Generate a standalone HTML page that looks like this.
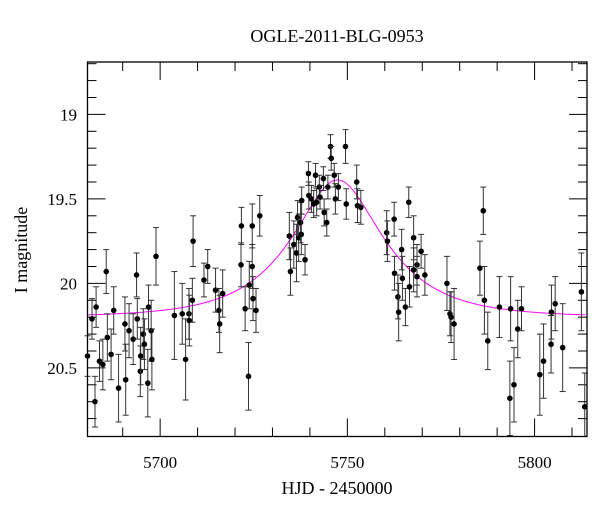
<!DOCTYPE html>
<html><head><meta charset="utf-8"><style>
body{margin:0;background:#fff}
svg{display:block;font-family:"Liberation Serif",serif}
</style></head><body>
<svg id="chart" width="600" height="512">
<text x="337" y="42" font-size="18" text-anchor="middle">OGLE-2011-BLG-0953</text>
<text x="337" y="494" font-size="18" text-anchor="middle">HJD - 2450000</text>
<text transform="translate(27,250) rotate(-90)" font-size="18" text-anchor="middle">I magnitude</text>
<g id="ticks"></g><g id="curve"></g><g id="pts"></g>
<rect x="87.5" y="62" width="499.5" height="374.5" fill="none" stroke="#000" stroke-width="1.3"/>
</svg>
<script>
const days=[5680.6,5681.8,5682.9,5682.6,5683.8,5684.7,5685.6,5685.9,5686.9,5687.6,5688.9,5690.6,5690.8,5691.7,5692.8,5693.7,5693.9,5694.7,5694.8,5695.5,5695.8,5696.7,5696.9,5697.6,5697.8,5698.9,5703.8,5705.9,5706.8,5707.7,5707.8,5708.6,5708.8,5711.7,5712.7,5714.8,5715.7,5715.9,5716.7,5721.7,5721.6,5722.7,5723.6,5723.8,5724.6,5724.6,5724.8,5725.6,5726.6,
5734.5,5734.8,5735.7,5736.4,5736.7,5737.0,5737.5,5737.7,5737.8,5738.7,5739.6,5739.7,5740.4,5741.0,5741.5,5741.8,5742.5,5742.7,5743.6,5743.8,5744.5,5744.8,5745.5,5745.7,5746.5,5746.8,5747.6,5749.5,5749.7,5752.5,5752.7,5753.6,5760.5,5760.7,5762.5,5762.6,5763.5,5763.7,5764.5,5764.7,5765.5,5766.4,5766.6,5767.7,5767.7,5768.6,5768.6,5769.7,5770.7,5776.6,
5777.4,5777.7,5778.5,5785.4,5786.3,5786.6,5787.5,5790.6,5793.4,5793.6,5794.5,5795.5,5796.5,5801.4,5802.4,5804.4,5804.5,5805.5,5807.5,5812.5,5813.4];
const mags=[20.43,20.21,20.14,20.70,20.46,20.48,19.93,20.32,20.42,20.16,20.62,20.24,20.57,20.28,20.33,19.95,20.21,20.52,20.43,20.30,20.36,20.59,20.14,20.28,20.45,19.84,20.19,20.18,20.45,20.18,20.22,20.10,19.75,19.98,19.90,20.04,20.16,20.24,20.06,19.66,19.89,20.15,20.55,20.01,19.66,19.90,20.09,20.16,19.60,
19.72,19.93,19.77,19.82,19.61,19.73,19.64,19.71,19.51,19.86,19.35,19.48,19.50,19.53,19.36,19.52,19.43,19.49,19.38,19.58,19.64,19.43,19.19,19.26,19.36,19.50,19.43,19.19,19.53,19.40,19.54,19.55,19.70,19.75,19.62,19.94,20.08,20.17,19.80,19.97,20.14,19.52,20.02,19.73,19.92,19.89,19.96,19.81,19.95,20.00,
20.18,20.20,20.24,19.91,19.57,20.10,20.34,20.14,20.68,20.15,20.60,20.27,20.15,20.54,20.46,20.36,20.17,20.12,20.38,20.05,20.73];
const errs=[0.12,0.12,0.12,0.15,0.12,0.15,0.13,0.14,0.15,0.14,0.2,0.16,0.21,0.16,0.15,0.13,0.12,0.15,0.17,0.15,0.15,0.2,0.13,0.18,0.18,0.17,0.26,0.18,0.24,0.15,0.15,0.13,0.15,0.1,0.1,0.13,0.13,0.17,0.14,0.11,0.13,0.13,0.2,0.14,0.13,0.13,0.13,0.13,0.12,
0.14,0.14,0.14,0.17,0.1,0.14,0.12,0.12,0.08,0.09,0.07,0.08,0.08,0.08,0.07,0.08,0.07,0.07,0.07,0.08,0.08,0.07,0.07,0.07,0.07,0.09,0.08,0.1,0.09,0.1,0.1,0.1,0.13,0.12,0.1,0.1,0.13,0.17,0.12,0.13,0.11,0.09,0.12,0.13,0.13,0.12,0.12,0.1,0.12,0.16,
0.13,0.15,0.21,0.16,0.14,0.2,0.17,0.18,0.22,0.19,0.22,0.17,0.13,0.24,0.22,0.17,0.16,0.16,0.26,0.23,0.2];
const xTicks=[5700,5750,5800];
const yTicks=[19,19.5,20,20.5];
const t0=5747.4, tE=20.6, u0=0.52, baseMag=20.2;

const X0=87.5,X1=587,Y0=62,Y1=436.5;
const xMin=5680.6,xMax=5814.0,yMin=18.69,yMax=20.906;
const sx=d=>X0+(d-xMin)/(xMax-xMin)*(X1-X0);
const sy=m=>Y0+(m-yMin)/(yMax-yMin)*(Y1-Y0);
const NS="http://www.w3.org/2000/svg";
function mk(tag,attrs,parent){const e=document.createElementNS(NS,tag);for(const k in attrs)e.setAttribute(k,attrs[k]);parent.appendChild(e);return e;}
const tg=document.getElementById('ticks');
for(let d=5690;d<=5810;d+=10){
  const major=d%50===0, L=major?18:9, x=sx(d);
  const t1=mk('line',{x1:x,x2:x,y1:Y1,y2:Y1-L,stroke:'#000','stroke-width':1},tg);
  
  
  const t2=mk('line',{x1:x,x2:x,y1:Y0,y2:Y0+L,stroke:'#000','stroke-width':1},tg);
  
  
}
for(let i=0;i<=21;i++){
  const m=18.7+i*0.1; if(m>yMax)break;
  const major=Math.abs(m*2-Math.round(m*2))<1e-6, L=major?18:9, y=sy(m);
  const t1=mk('line',{x1:X0,x2:X0+L,y1:y,y2:y,stroke:'#000','stroke-width':1},tg);
  
  
  const t2=mk('line',{x1:X1,x2:X1-L,y1:y,y2:y,stroke:'#000','stroke-width':1},tg);
  
  
}
xTicks.forEach(v=>{const t=mk('text',{x:sx(v),y:468,'font-size':17,'text-anchor':'middle'},tg);t.textContent=v;
  
  });
yTicks.forEach(v=>{const t=mk('text',{x:77,y:sy(v)+6,'font-size':17,'text-anchor':'end'},tg);t.textContent=v;
  
  });
// model curve
let dstr='';
for(let d=xMin;d<=xMax;d+=0.5){
  const u=Math.sqrt(u0*u0+((d-t0)/tE)**2);
  const A=(u*u+2)/(u*Math.sqrt(u*u+4));
  const m=baseMag-2.5*Math.log10(A);
  dstr+=(dstr?'L':'M')+sx(d).toFixed(1)+','+sy(m).toFixed(1);
}
const cv=mk('path',{d:dstr,fill:'none',stroke:'#ff00ff','stroke-width':1},document.getElementById('curve'));


const pg=document.getElementById('pts');
days.forEach((d,i)=>{
  const x=sx(d),y=sy(mags[i]),ya=sy(mags[i]-errs[i]),yb=sy(mags[i]+errs[i]);
  const g=mk('g',{},pg);
  
  
  const col='#333';
  mk('line',{x1:x,x2:x,y1:Math.max(ya,Y0),y2:Math.min(yb,Y1),stroke:col,'stroke-width':1},g);
  if(ya>Y0)mk('line',{x1:x-3,x2:x+3,y1:ya,y2:ya,stroke:col,'stroke-width':1},g);
  if(yb<Y1)mk('line',{x1:x-3,x2:x+3,y1:yb,y2:yb,stroke:col,'stroke-width':1},g);
  mk('circle',{cx:x,cy:y,r:2.8,fill:'#000'},g);
});
</script>
</body></html>
